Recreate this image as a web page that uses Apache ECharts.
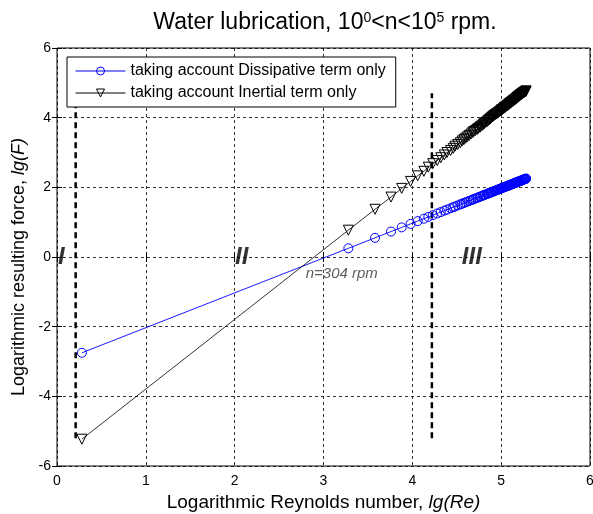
<!DOCTYPE html>
<html>
<head>
<meta charset="utf-8">
<script src="https://cdn.jsdelivr.net/npm/echarts@6/dist/echarts.min.js"></script>
<style>
html,body{margin:0;padding:0;background:#fff;}
#c{width:593px;height:514px;}
</style>
</head>
<body>
<div id="c"></div>
<script>
// lg(Re) values of the sampled points (n = 1 rpm, then 1000..100000 rpm)
var lgRe = [0.28,
3.28,3.58,3.76,3.88,3.98,4.06,4.13,4.18,4.23,4.28,4.32,4.36,4.39,4.43,4.46,4.48,4.51,4.54,4.56,4.58,
4.60,4.62,4.64,4.66,4.68,4.69,4.71,4.73,4.74,4.76,4.77,4.79,4.80,4.81,4.82,4.84,4.85,4.86,4.87,4.88,
4.89,4.90,4.91,4.92,4.93,4.94,4.95,4.96,4.97,4.98,4.99,5.00,5.00,5.01,5.02,5.03,5.04,5.04,5.05,5.06,
5.07,5.07,5.08,5.09,5.09,5.10,5.11,5.11,5.12,5.13,5.13,5.14,5.14,5.15,5.16,5.16,5.17,5.17,5.18,5.18,
5.19,5.19,5.20,5.20,5.21,5.21,5.22,5.22,5.23,5.23,5.24,5.24,5.25,5.25,5.26,5.26,5.27,5.27,5.28,5.28];
var dissipative = [-2.75,
0.25,0.55,0.73,0.85,0.95,1.03,1.10,1.15,1.20,1.25,1.29,1.33,1.36,1.40,1.43,1.45,1.48,1.51,1.53,1.55,
1.57,1.59,1.61,1.63,1.65,1.66,1.68,1.70,1.71,1.73,1.74,1.76,1.77,1.78,1.79,1.81,1.82,1.83,1.84,1.85,
1.86,1.87,1.88,1.89,1.90,1.91,1.92,1.93,1.94,1.95,1.96,1.97,1.97,1.98,1.99,2.00,2.01,2.01,2.02,2.03,
2.04,2.04,2.05,2.06,2.06,2.07,2.08,2.08,2.09,2.10,2.10,2.11,2.11,2.12,2.13,2.13,2.14,2.14,2.15,2.15,
2.16,2.16,2.17,2.17,2.18,2.18,2.19,2.19,2.20,2.20,2.21,2.21,2.22,2.22,2.23,2.23,2.24,2.24,2.25,2.25];
var inertial = [-5.23,
0.77,1.37,1.72,1.97,2.17,2.33,2.46,2.58,2.68,2.77,2.85,2.93,3.00,3.06,3.12,3.18,3.23,3.28,3.33,3.37,
3.41,3.45,3.49,3.53,3.57,3.60,3.63,3.66,3.69,3.72,3.75,3.78,3.81,3.83,3.86,3.88,3.91,3.93,3.95,3.97,
4.00,4.02,4.04,4.06,4.08,4.10,4.11,4.13,4.15,4.17,4.19,4.20,4.22,4.23,4.25,4.27,4.28,4.30,4.31,4.33,
4.34,4.35,4.37,4.38,4.40,4.41,4.42,4.44,4.45,4.46,4.47,4.48,4.50,4.51,4.52,4.53,4.54,4.55,4.57,4.58,
4.59,4.60,4.61,4.62,4.63,4.64,4.65,4.66,4.67,4.68,4.69,4.70,4.71,4.72,4.73,4.73,4.74,4.75,4.76,4.77];
var seriesNames = ['taking account Dissipative term only', 'taking account Inertial term only'];
var boundaryX = [0.21, 4.22];
var boundaryY = [-5.2, 4.7];
var regionLabels = ['I', 'II', 'III'];
var regionX = [0.05, 2.08, 4.67];
var regionY = [0, 0, 0];
var noteText = 'n=304 rpm';
var noteXY = [2.80, -0.47];
var xTicks = [0, 6, 1];
var yTicks = [-6, 6, 2];

var FONT = '"Liberation Sans", Arial, sans-serif';
function pairs(xs, ys){ return xs.map(function(x,i){ return [x, ys[i]]; }); }

var chart = echarts.init(document.getElementById('c'), null, {renderer:'canvas'});
var grid = {left:57, right:3, top:48, bottom:48, outerBoundsMode:'none', containLabel:false,
  show:true, borderColor:'#000', borderWidth:1, backgroundColor:'#fff'};
var splitStyle = {show:true, lineStyle:{color:'#000', width:0.8, type:[3,3]}};
var series = [];
boundaryX.forEach(function(bx){
  series.push({type:'line', data:[[bx, boundaryY[0]],[bx, boundaryY[1]]], showSymbol:false, symbol:'none', silent:true,
    lineStyle:{color:'#000', width:2.5, type:[6,4]}, z:3, animation:false});
});
series.push({name:seriesNames[0], type:'line', data:pairs(lgRe, dissipative), symbol:'circle', symbolSize:9,
  lineStyle:{color:'#0000ff', width:0.9}, itemStyle:{color:'rgba(255,255,255,0)', borderColor:'#0000ff', borderWidth:1}, z:4, animation:false});
series.push({name:seriesNames[1], type:'line', data:pairs(lgRe, inertial), symbol:'triangle', symbolRotate:180, symbolSize:[10,10],
  lineStyle:{color:'#000', width:0.8}, itemStyle:{color:'rgba(255,255,255,0)', borderColor:'#000', borderWidth:1}, z:5, animation:false});
series.push({type:'scatter', symbolSize:0, silent:true, z:6, animation:false,
  data: regionLabels.map(function(t,i){ return {name:t, value:[regionX[i], regionY[i]]}; }),
  label:{show:true, position:'inside', formatter:function(p){return p.name;}, fontFamily:FONT, fontSize:24, fontWeight:'bold', fontStyle:'italic', color:'#000'}});
series.push({type:'scatter', symbolSize:0, silent:true, z:6, animation:false,
  data:[{name:noteText, value:noteXY}],
  label:{show:true, position:'inside', align:'left', formatter:function(p){return p.name;}, fontFamily:FONT, fontSize:15, fontStyle:'italic', color:'#333'}});

chart.setOption({
  animation:false,
  title:{text:'{t|Water lubrication, 10}{s|0}{t|<n<10}{s|5}{t| rpm.}', left:320, textAlign:'center', top:6,
    textStyle:{fontWeight:'normal', rich:{t:{fontFamily:FONT, fontSize:23, fontWeight:'normal', color:'#000'}, s:{fontFamily:FONT, fontSize:14, fontWeight:'normal', color:'#000', verticalAlign:'top', padding:[0,0,10,0]}}}},
  legend:{data:seriesNames, orient:'vertical', left:67, top:57, backgroundColor:'#fff', borderColor:'#000', borderWidth:1,
    padding:[6,10,6,8], itemGap:6, itemWidth:50, itemHeight:10, lineStyle:{width:1}, itemStyle:{borderWidth:1},
    textStyle:{fontFamily:FONT, fontSize:16, color:'#000'}},
  grid:grid,
  xAxis:[{type:'value', min:xTicks[0], max:xTicks[1], interval:xTicks[2], position:'bottom',
    axisLine:{show:false}, axisTick:{show:true, inside:true, length:5, lineStyle:{color:'#000'}},
    axisLabel:{fontFamily:FONT, fontSize:14, color:'#000', margin:8},
    splitLine:splitStyle,
    name:'{n|Logarithmic Reynolds number, }{i|lg(Re)}', nameLocation:'middle', nameGap:25,
    nameTextStyle:{rich:{n:{fontFamily:FONT, fontSize:19, color:'#000'}, i:{fontFamily:FONT, fontSize:19, fontStyle:'italic', color:'#000'}}}},
   {type:'value', min:xTicks[0], max:xTicks[1], interval:xTicks[2], position:'top',
    axisLine:{show:false}, axisTick:{show:true, inside:true, length:5, lineStyle:{color:'#000'}}, axisLabel:{show:false}, splitLine:{show:false}}],
  yAxis:[{type:'value', min:yTicks[0], max:yTicks[1], interval:yTicks[2], position:'left',
    axisLine:{show:false}, axisTick:{show:true, inside:true, length:5, lineStyle:{color:'#000'}},
    axisLabel:{fontFamily:FONT, fontSize:14, color:'#000', margin:6},
    splitLine:splitStyle,
    name:'{n|Logarithmic resulting force, }{i|lg(F)}', nameLocation:'middle', nameGap:28, nameRotate:90,
    nameTextStyle:{padding:[0,20,0,0], rich:{n:{fontFamily:FONT, fontSize:18, color:'#000'}, i:{fontFamily:FONT, fontSize:18, fontStyle:'italic', color:'#000'}}}},
   {type:'value', min:yTicks[0], max:yTicks[1], interval:yTicks[2], position:'right',
    axisLine:{show:false}, axisTick:{show:true, inside:true, length:5, lineStyle:{color:'#000'}}, axisLabel:{show:false}, splitLine:{show:false}}],
  series:series
});
</script>
</body>
</html>
